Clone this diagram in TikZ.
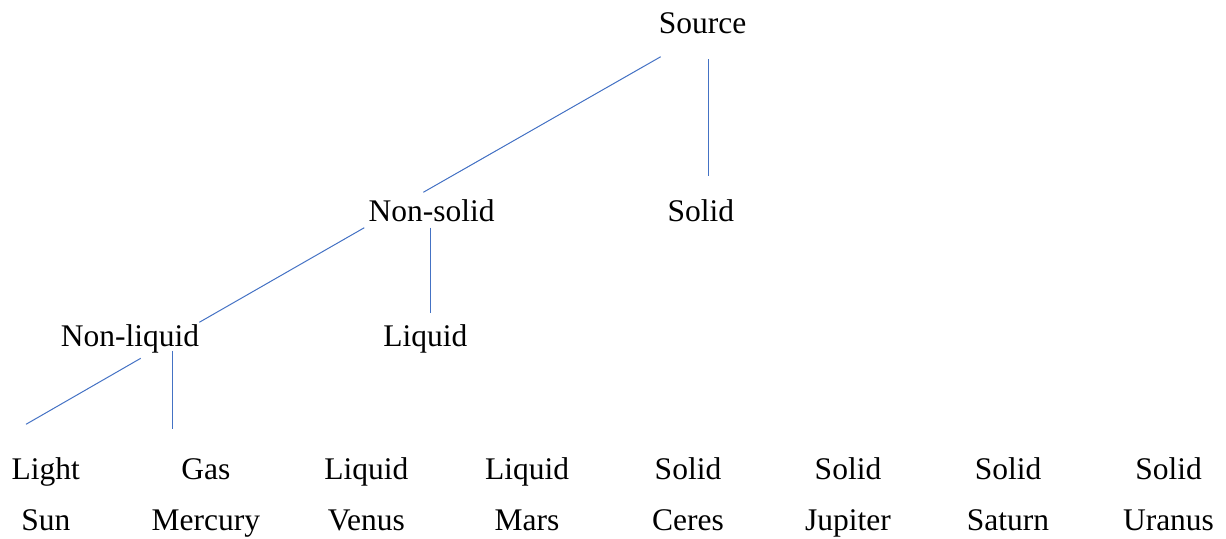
\documentclass[tikz,border=0pt]{standalone}
\usepackage{fontspec}
\setmainfont{Liberation Serif}
\definecolor{linkblue}{HTML}{4472C4}
\begin{document}
\begin{tikzpicture}[x=0.5pt,y=-0.5pt,
  lbl/.style={anchor=base,inner sep=0pt,font=\fontsize{15.75pt}{18pt}\selectfont},
  link/.style={draw=linkblue,line width=0.5pt}]
\useasboundingbox (0,0) rectangle (1226,538);
% tree labels
\node[lbl] (source) at (702.5,33.3) {Source};
\node[lbl] (nonsolid) at (431.7,221.7) {Non-solid};
\node[lbl] (solid) at (700.8,221.7) {Solid};
\node[lbl] (nonliquid) at (130,346.7) {Non-liquid};
\node[lbl] (liquid) at (425.3,346.7) {Liquid};
% bottom rows
\foreach \x/\a/\b/\n in {45.8/Light/Sun/1, 205.8/Gas/Mercury/2, 366.3/Liquid/Venus/3, 527/Liquid/Mars/4, 688/Solid/Ceres/5, 848/Solid/Jupiter/6, 1008/Solid/Saturn/7, 1168.5/Solid/Uranus/8}{
  \node[lbl] (top\n) at (\x,479.5) {\a};
  \node[lbl] (bot\n) at (\x,530.7) {\b};
}
% connector end points
\coordinate (sA) at (660.7,56.7);
\coordinate (sB) at (423.3,192.3);
\coordinate (sC) at (708.3,59.3);
\coordinate (sD) at (708.3,176);
\coordinate (nA) at (364.3,227.7);
\coordinate (nB) at (199.3,322.3);
\coordinate (nC) at (430.7,227.7);
\coordinate (nD) at (430.7,312.7);
\coordinate (lA) at (140.7,358.3);
\coordinate (lB) at (26,424.3);
\coordinate (lC) at (172.3,350.7);
\coordinate (lD) at (172.3,429.3);
\draw[link] (sA) -- (sB);
\draw[link] (sC) -- (sD);
\draw[link] (nA) -- (nB);
\draw[link] (nC) -- (nD);
\draw[link] (lA) -- (lB);
\draw[link] (lC) -- (lD);
\end{tikzpicture}
\end{document}
